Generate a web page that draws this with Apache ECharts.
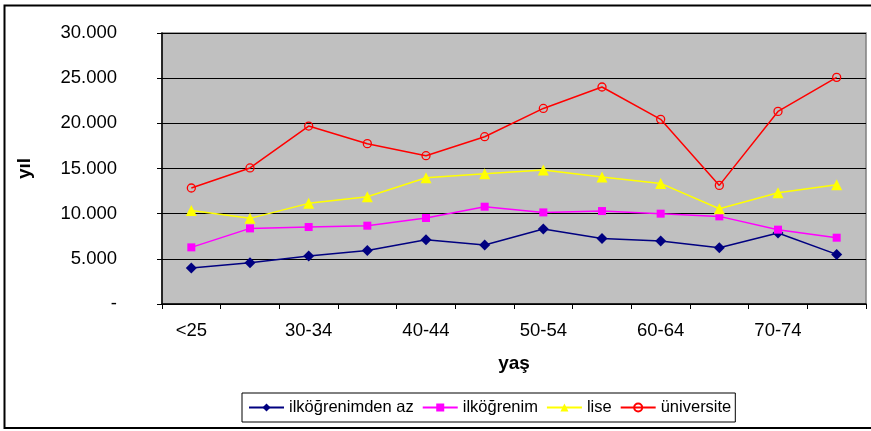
<!DOCTYPE html>
<html>
<head>
    <meta charset="utf-8">
    <title>yaş - yıl</title>
    <script src="https://cdn.jsdelivr.net/npm/echarts@6.0.0/dist/echarts.min.js"></script>
    <style>
        html, body { margin: 0; padding: 0; background: #fff; }
        #chart1 { width: 871px; height: 431px; }
    </style>
</head>
<body>
<div id="chart1"></div>
<script type="text/javascript">
    // kategoriler ve seriler
    var ageGroups = ['<25', '25-29', '30-34', '35-39', '40-44', '45-49', '50-54', '55-59', '60-64', '65-69', '70-74', '75+'];
    var seriesNames = ['ilköğrenimden az', 'ilköğrenim', 'lise', 'üniversite'];
    var ilkogrenimdenAz = [3980, 4570, 5310, 5930, 7120, 6530, 8300, 7260, 6970, 6230, 7860, 5490];
    var ilkogrenim = [6270, 8370, 8520, 8670, 9520, 10770, 10140, 10290, 10000, 9700, 8230, 7340];
    var lise = [10360, 9480, 11140, 11880, 13980, 14420, 14830, 14060, 13350, 10550, 12320, 13210];
    var universite = [12840, 15060, 19700, 17750, 16420, 18520, 21650, 24020, 20440, 13130, 21320, 25090];

    var font = 'Liberation Sans, Arial, sans-serif';
    var myChart1 = echarts.init(document.getElementById('chart1'));

    myChart1.setOption({
        animation: false,
        backgroundColor: '#fff',
        textStyle: { fontFamily: font },
        graphic: [{
            type: 'rect',
            shape: { x: 4.5, y: 5.5, width: 880, height: 422.5 },
            style: { fill: 'none', stroke: '#000', lineWidth: 2 },
            silent: true
        }],
        grid: {
            left: 162, right: 5, top: 33, bottom: 127,
            show: true, backgroundColor: '#C0C0C0', borderColor: '#808080', borderWidth: 1.5
        },
        legend: {
            left: 242, top: 393,
            data: seriesNames,
            itemWidth: 35, itemHeight: 10, itemGap: 8,
            padding: [6, 4, 6, 6],
            borderColor: '#000', borderWidth: 1,
            textStyle: { fontSize: 16.5, color: '#000', fontFamily: font }
        },
        xAxis: {
            type: 'category',
            data: ageGroups,
            boundaryGap: true,
            name: 'yaş',
            nameLocation: 'middle',
            nameGap: 50,
            nameTextStyle: { fontSize: 19, fontWeight: 'bold', color: '#000' },
            axisLine: { lineStyle: { color: '#000', width: 1.5 } },
            axisTick: { show: true, interval: 0, length: 5, lineStyle: { color: '#000' } },
            axisLabel: { interval: 1, margin: 17, fontSize: 18.5, color: '#000' }
        },
        yAxis: {
            type: 'value',
            min: 0, max: 30000, interval: 5000,
            name: 'yıl',
            nameLocation: 'middle',
            nameRotate: 90,
            nameGap: 128,
            nameTextStyle: { fontSize: 19, fontWeight: 'bold', color: '#000' },
            axisLine: { show: true, lineStyle: { color: '#000', width: 1.5 } },
            axisTick: { show: true, length: 5, lineStyle: { color: '#000' } },
            splitLine: { show: true, lineStyle: { color: '#000', width: 1 } },
            axisLabel: {
                margin: 45, fontSize: 18.5, color: '#000',
                formatter: function (v) { return v === 0 ? '-' : (v / 1000) + '.000'; }
            }
        },
        series: [{
            name: seriesNames[0], type: 'line', data: ilkogrenimdenAz,
            symbol: 'diamond', symbolSize: 11,
            itemStyle: { color: '#000080' }, lineStyle: { color: '#000080', width: 1.5 }
        }, {
            name: seriesNames[1], type: 'line', data: ilkogrenim,
            symbol: 'rect', symbolSize: 8,
            itemStyle: { color: '#FF00FF' }, lineStyle: { color: '#FF00FF', width: 1.5 }
        }, {
            name: seriesNames[2], type: 'line', data: lise,
            symbol: 'triangle', symbolSize: 11,
            itemStyle: { color: '#FFFF00' }, lineStyle: { color: '#FFFF00', width: 1.5 }
        }, {
            name: seriesNames[3], type: 'line', data: universite,
            symbol: 'circle', symbolSize: 8,
            itemStyle: { color: 'rgba(0,0,0,0)', borderColor: '#FF0000', borderWidth: 1.3 },
            lineStyle: { color: '#FF0000', width: 1.5 }
        }]
    });
</script>
</body>
</html>
